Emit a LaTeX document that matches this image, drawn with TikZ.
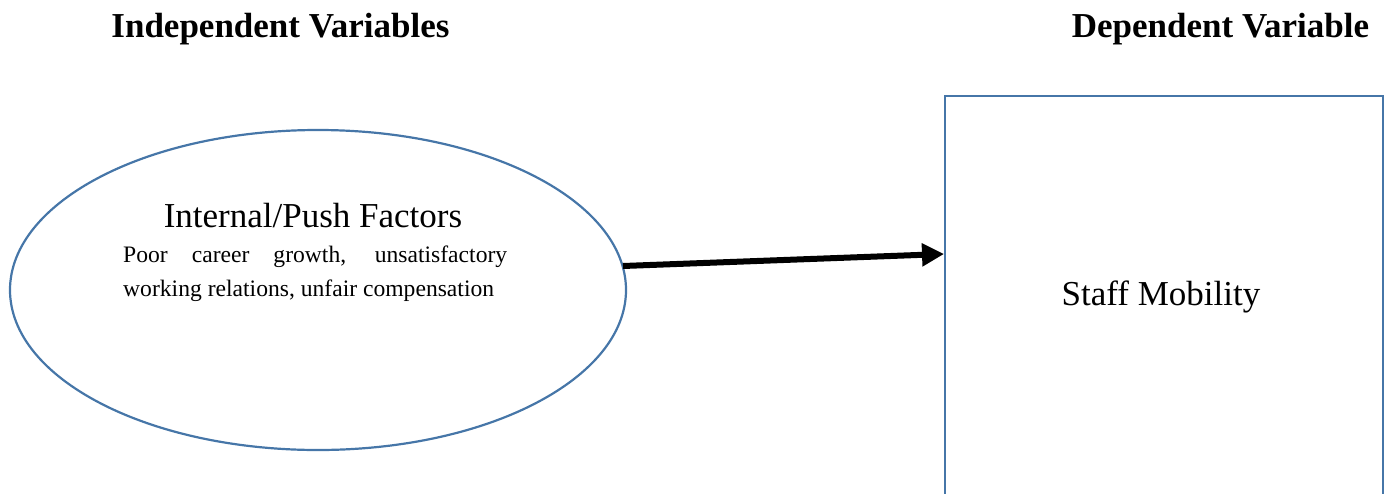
\documentclass[tikz,border=0pt]{standalone}
\usepackage{fontspec}
\setmainfont{Liberation Serif}
\usetikzlibrary{arrows.meta,shapes.geometric}
\definecolor{shapeblue}{RGB}{70,118,168}
\tikzset{
  heading/.style={font=\fontsize{35}{40}\selectfont\bfseries, anchor=base, inner sep=0pt},
  shapeline/.style={draw=shapeblue, line width=2.2pt},
  bigtext/.style={font=\fontsize{35}{40}\selectfont, anchor=base, inner sep=0pt},
  smalltext/.style={font=\fontsize{23.6}{34}\selectfont, anchor=north west, inner sep=0pt, text width=384pt, align=justify},
  bigarrow/.style={line width=6pt, -{Triangle[length=22pt,width=22pt]}}
}
\begin{document}
\begin{tikzpicture}[x=1pt,y=-1pt]
\useasboundingbox (0,0) rectangle (1391,493);
\node[heading] (indep) at (280.5,37) {Independent Variables};
\node[heading] (dep) at (1220.5,37) {Dependent Variable};
\node[shapeline, ellipse, minimum width=616pt, minimum height=320pt, inner sep=0pt] (ell) at (318,290) {};
\node[shapeline, rectangle, minimum width=438pt, minimum height=400pt, inner sep=0pt, anchor=north west] (box) at (944,95) {};
\node[bigtext] (push) at (313,227) {Internal/Push Factors};
\node[smalltext] (desc) at (123,246) {Poor career growth, unsatisfactory\linebreak working relations, unfair compensation};
\node[bigtext] (staff) at (1161,305) {Staff Mobility};
\coordinate (astart) at (623,266);
\coordinate (aend) at (944,254);
\draw[bigarrow] (astart) -- (aend);
\end{tikzpicture}
\end{document}
